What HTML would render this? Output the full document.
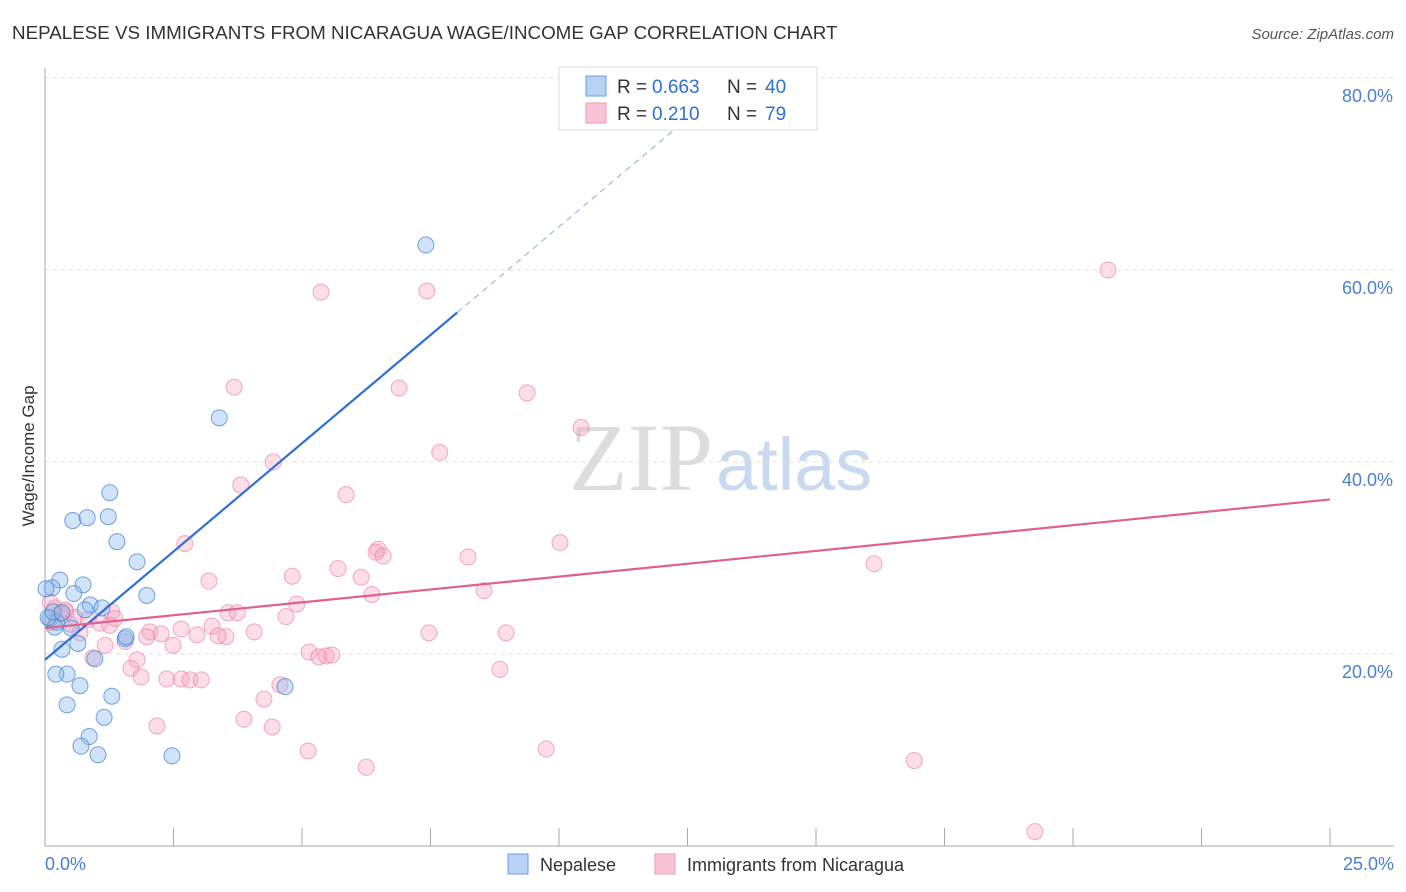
<!DOCTYPE html>
<html><head><meta charset="utf-8"><style>
body{margin:0;background:#fff;font-family:"Liberation Sans",sans-serif}
svg{display:block}
</style></head><body>
<svg id="c" width="1406" height="892" xmlns="http://www.w3.org/2000/svg"></svg>
<script>
const xTicks=[0,2.5,5,7.5,10,12.5,15,17.5,20,22.5,25];
const yTicks=[20,40,60,80];
const yTickLabels=["20.0%","40.0%","60.0%","80.0%"];
const nepX=[7.41,3.39,1.26,0.54,0.82,1.23,1.40,1.79,1.98,0.29,0.74,0.14,0.56,0.88,1.11,0.78,0.10,0.23,0.51,0.19,1.56,0.64,0.33,0.43,0.21,0.97,0.68,1.30,0.43,1.15,0.86,0.70,1.03,2.47,4.67,0.06,0.16,0.33,1.58,0.02];
const nepY=[62.6,44.6,36.8,33.9,34.2,34.3,31.7,29.6,26.1,27.7,27.2,26.9,26.3,25.1,24.8,24.6,23.7,23.3,22.7,22.8,21.6,21.1,20.5,17.9,17.9,19.5,16.7,15.6,14.7,13.4,11.4,10.4,9.5,9.4,16.6,23.8,24.4,24.3,21.8,26.8];
const nicX=[20.68,5.37,7.43,3.68,6.89,9.38,10.43,7.68,4.44,3.81,5.86,6.48,6.44,6.58,10.02,8.23,2.72,16.13,5.70,6.15,4.81,3.19,8.54,6.36,4.90,1.30,3.56,3.74,4.69,3.25,2.65,2.04,2.26,3.52,2.96,4.07,3.37,1.98,7.47,8.97,2.49,1.17,1.56,5.14,5.33,5.47,5.58,0.93,1.79,8.85,1.67,1.87,2.37,2.65,2.82,3.04,4.57,4.26,3.87,4.42,2.18,5.12,9.75,6.25,16.91,19.26,0.10,0.19,0.29,0.41,0.58,0.49,0.84,1.07,1.26,1.36,0.68,0.14,0.39];
const nicY=[60.0,57.7,57.8,47.8,47.7,47.2,43.6,41.0,40.0,37.6,36.6,30.9,30.6,30.2,31.6,30.1,31.5,29.4,28.9,28.0,28.1,27.6,26.6,26.2,25.2,24.4,24.3,24.3,23.9,22.9,22.6,22.3,22.1,21.8,22.0,22.3,21.9,21.8,22.2,22.2,20.9,20.9,21.3,20.2,19.7,19.8,19.9,19.6,19.4,18.4,18.5,17.6,17.4,17.4,17.3,17.3,16.8,15.3,13.2,12.4,12.5,9.9,10.1,8.2,8.9,1.5,25.4,24.8,24.2,24.4,23.8,23.1,23.6,23.2,23.0,23.7,22.2,23.3,24.6];
const nepLine=[19.4,4.51];
const nicLine=[22.7,0.536];
const X=v=>45+v*51.4, Y=v=>846-v*9.6;
const S=document.getElementById('c'),NS="http://www.w3.org/2000/svg";
function mk(t,a,txt){const e=document.createElementNS(NS,t);for(const k in a)e.setAttribute(k,a[k]);if(txt!==undefined)e.textContent=txt;S.appendChild(e);return e;}
let e;
e=mk('text',{x:12,y:39,'font-size':18.8,fill:'#333'},'NEPALESE VS IMMIGRANTS FROM NICARAGUA WAGE/INCOME GAP CORRELATION CHART');


e=mk('text',{x:1394,y:39,'font-size':15,fill:'#555','text-anchor':'end','font-style':'italic'},'Source: ZipAtlas.com');


e=mk('text',{x:713,y:490,'font-size':96,fill:'#ddd','text-anchor':'end','font-family':'Liberation Serif'},'ZIP');


e=mk('text',{x:716,y:490,'font-size':74,fill:'#c9d9f0'},'atlas');


yTicks.forEach((t,i)=>{
 e=mk('line',{x1:45,x2:1394,y1:Y(t),y2:Y(t),stroke:'#ddd','stroke-dasharray':'4,4'});
 
 
 e=mk('text',{x:1393,y:Y(t)+24,'font-size':18,fill:'#4a7fd4','text-anchor':'end'},yTickLabels[i]);
 
 
});
e=mk('line',{x1:45,x2:45,y1:68,y2:846,stroke:'#aaa'});


e=mk('line',{x1:45,x2:1394,y1:846,y2:846,stroke:'#aaa'});


xTicks.forEach(t=>{e=mk('line',{x1:X(t),x2:X(t),y1:828,y2:846,stroke:'#aaa'});
 
 });
e=mk('text',{x:45,y:870,'font-size':18,fill:'#4a7fd4'},'0.0%');


e=mk('text',{x:1394,y:870,'font-size':18,fill:'#4a7fd4','text-anchor':'end'},'25.0%');


e=mk('text',{x:34,y:456,'font-size':17,fill:'#333','text-anchor':'middle',transform:'rotate(-90 34 456)'},'Wage/Income Gap');


nicX.forEach((x,i)=>{e=mk('circle',{cx:X(x),cy:Y(nicY[i]),r:8,fill:'rgba(244,160,188,0.35)',stroke:'rgba(232,120,160,0.6)'});
 
 });
nepX.forEach((x,i)=>{e=mk('circle',{cx:X(x),cy:Y(nepY[i]),r:8,fill:'rgba(140,185,235,0.4)',stroke:'rgba(60,125,210,0.7)'});
 
 });
e=mk('line',{x1:X(0),y1:Y(nepLine[0]),x2:X(8.02),y2:Y(nepLine[0]+nepLine[1]*8.02),stroke:'#2f6fd6','stroke-width':2.2});


e=mk('line',{x1:X(8.02),y1:Y(nepLine[0]+nepLine[1]*8.02),x2:X(13.4),y2:Y(nepLine[0]+nepLine[1]*13.4),stroke:'#9bb8e6','stroke-width':1.2,'stroke-dasharray':'6,5'});


e=mk('line',{x1:X(0),y1:Y(nicLine[0]),x2:X(25),y2:Y(nicLine[0]+nicLine[1]*25),stroke:'#e0608e','stroke-width':2.2});


e=mk('rect',{x:559,y:67,width:258,height:63,fill:'#fff',stroke:'#ddd'});


[[0.663,40,'#b8d2f4','#6b9be0'],[0.210,79,'#f9c5d6','#ea9ab6']].forEach((r,i)=>{
 const y=86+i*27;
 e=mk('rect',{x:586,y:y-10,width:20,height:20,fill:r[2],stroke:r[3]});
 
 
 e=mk('text',{x:617,y:y+7,'font-size':19,fill:'#333'},'R =');
 
 
 e=mk('text',{x:652,y:y+7,'font-size':19,fill:'#2f6fd6'},r[0].toFixed(3));
 
 
 e=mk('text',{x:727,y:y+7,'font-size':19,fill:'#333'},'N =');
 
 
 e=mk('text',{x:765,y:y+7,'font-size':19,fill:'#2f6fd6'},String(r[1]));
 
 
});
[['Nepalese',508,'#b8d2f4','#6b9be0'],['Immigrants from Nicaragua',655,'#f9c5d6','#ea9ab6']].forEach(l=>{
 e=mk('rect',{x:l[1],y:854,width:20,height:20,fill:l[2],stroke:l[3]});
 
 
 e=mk('text',{x:l[1]+32,y:871,'font-size':18,fill:'#333'},l[0]);
 
 
});
</script>
</body></html>
